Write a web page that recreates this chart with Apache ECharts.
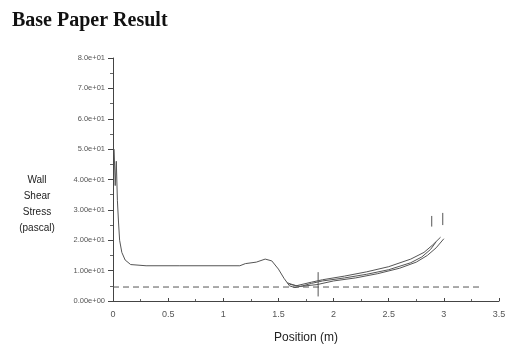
<!DOCTYPE html>
<html><head><meta charset="utf-8">
<script src="https://cdn.jsdelivr.net/npm/echarts@6/dist/echarts.min.js"></script>
<style>html,body{margin:0;padding:0;background:#fff}#c{width:513px;height:347px}</style>
</head><body><div id="c"></div>
<script>
const titleText = "Base Paper Result";
const xAxisName = "Position (m)";
const yAxisName = "Wall\nShear\nStress\n(pascal)";
const xTicks = [0, 0.5, 1, 1.5, 2, 2.5, 3, 3.5];
const yTicks = [0, 10, 20, 30, 40, 50, 60, 70, 80];

const curveA = [[0.01,50],[0.02,38],[0.03,46],[0.04,33],[0.05,26],[0.06,20],[0.08,16],[0.11,13.5],[0.16,12],[0.3,11.6],[0.6,11.6],[1.15,11.6],[1.2,12.3],[1.3,12.8],[1.38,13.8],[1.44,13.2],[1.5,10.5],[1.55,7.5],[1.6,5],[1.65,4.4],[1.72,5],[1.8,5.8],[1.9,6.6],[2.1,7.6],[2.3,8.8],[2.5,10.3],[2.7,12.6],[2.8,14.5],[2.88,17],[2.93,19.5]];
const curveB = [[1.58,6],[1.66,5],[1.8,6.2],[1.9,7],[2.1,8.2],[2.3,9.6],[2.5,11.3],[2.7,13.8],[2.82,16],[2.9,18.5],[2.97,21]];
const curveC = [[1.6,5.5],[1.7,4.8],[1.85,5.4],[2.0,6.6],[2.2,7.6],[2.4,9],[2.6,10.8],[2.75,12.8],[2.85,15],[2.93,17.5],[3.0,20.5]];
const tickMarks1 = [[1.86,1.5],[1.86,9.5]];
const tickMarks2 = [[2.89,24.5],[2.89,28]];
const tickMarks3 = [[2.99,25],[2.99,29]];
const refLine = [[0,4.6],[3.33,4.6]];

const lineStyle = {color:'#555', width:1};
function s(data, extra){ return Object.assign({type:'line', data, symbol:'none', lineStyle, silent:true, animation:false}, extra||{}); }

const chart = echarts.init(document.getElementById('c'));
chart.setOption({
  animation:false,
  backgroundColor:'#fff',
  title:{text:titleText, left:7, top:6, textStyle:{fontFamily:'Liberation Serif', fontWeight:'bold', fontSize:20, color:'#111'}},
  grid:{left:113, right:14, top:58, bottom:46},
  xAxis:{type:'value', min:0, max:3.5, interval:0.5,
    axisLine:{lineStyle:{color:'#444', width:1}},
    axisTick:{show:true, length:3, inside:true, lineStyle:{color:'#444'}},
    minorTick:{show:true, splitNumber:2, length:2, lineStyle:{color:'#666'}},
    splitLine:{show:false},
    axisLabel:{color:'#555', fontSize:9, margin:9, fontFamily:'Liberation Sans'}},
  yAxis:{type:'value', min:0, max:80, interval:10,
    axisLine:{show:true, lineStyle:{color:'#444', width:1}},
    axisTick:{show:true, length:5, lineStyle:{color:'#444'}},
    minorTick:{show:true, splitNumber:2, length:3, lineStyle:{color:'#666'}},
    splitLine:{show:false},
    axisLabel:{color:'#555', fontSize:7.5, margin:8, fontFamily:'Liberation Sans',
      formatter:v => v>=50 ? v.toExponential(1).replace('e+','e+0') : v.toExponential(2).replace('e+','e+0')}},
  graphic:[
    {type:'text', x:37, y:204, style:{text:yAxisName, fill:'#222', fontSize:10, fontFamily:'Liberation Sans', align:'center', verticalAlign:'middle', lineHeight:16}},
    {type:'text', x:306, y:338, style:{text:xAxisName, fill:'#222', fontSize:12, fontFamily:'Liberation Sans', align:'center', verticalAlign:'middle'}}
  ],
  series:[
    s(curveA), s(curveB), s(curveC),
    s(tickMarks1), s(tickMarks2), s(tickMarks3),
    s(refLine, {lineStyle:{color:'#555', width:1, type:[6,4]}})
  ]
});
</script></body></html>
